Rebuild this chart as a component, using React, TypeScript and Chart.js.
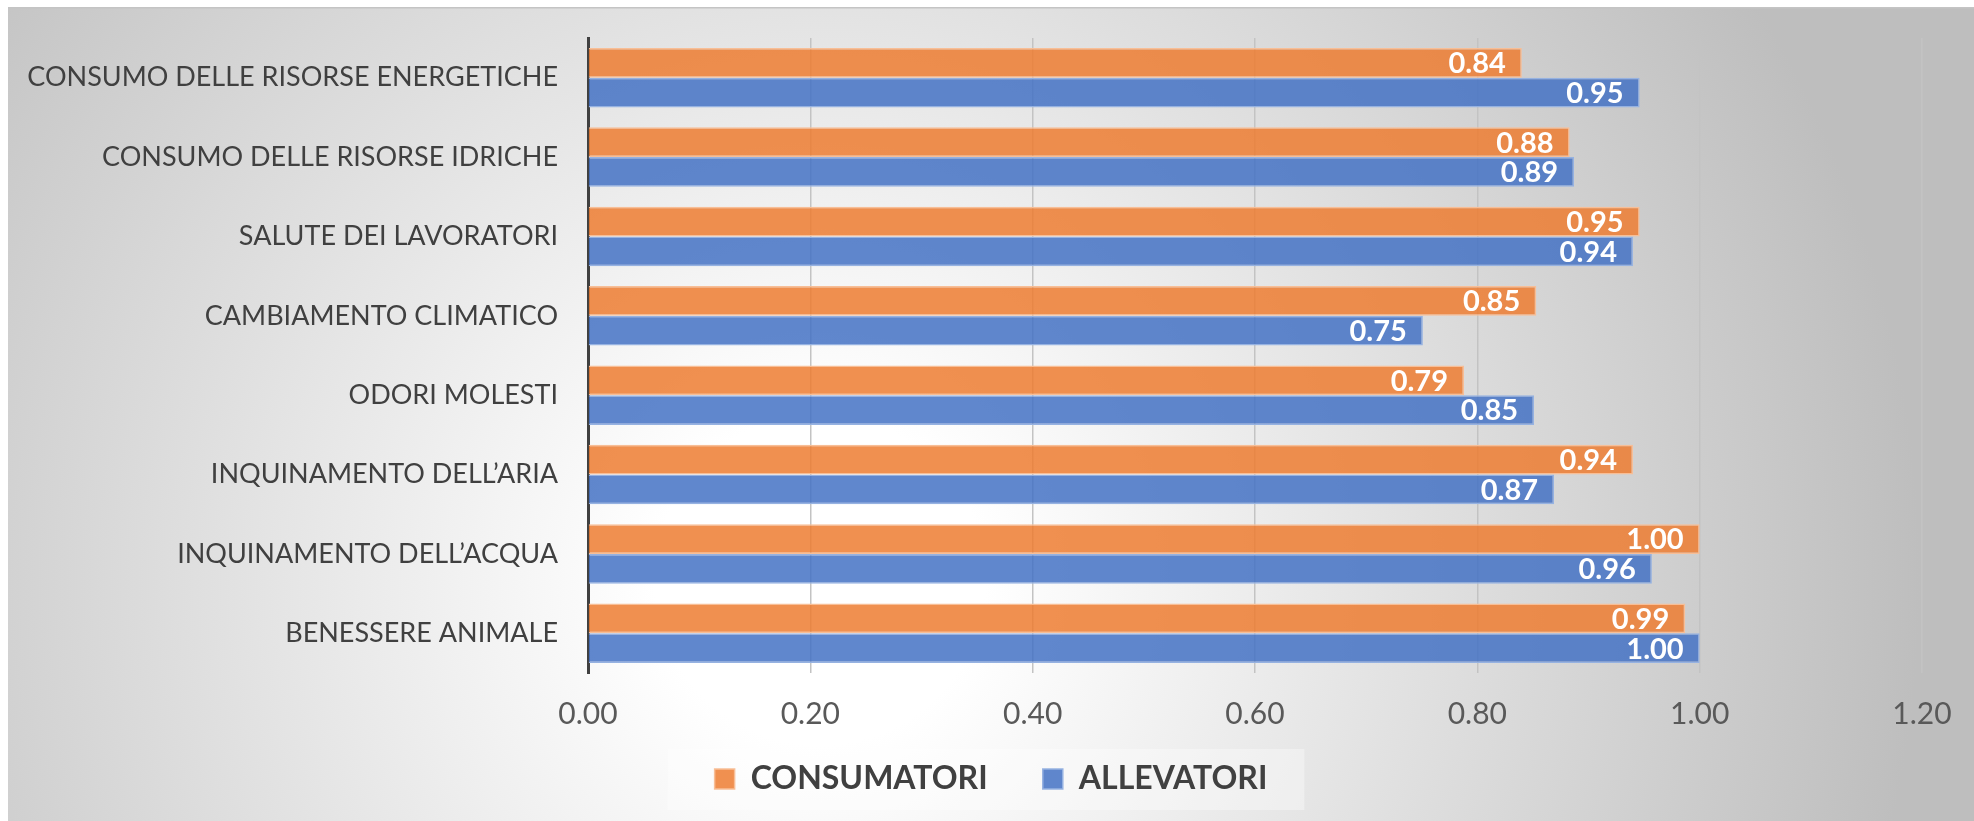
import React, { useEffect, useRef } from "react";
import { Chart, registerables } from "chart.js";

Chart.register(...registerables);

const categories = [
  "CONSUMO DELLE RISORSE ENERGETICHE",
  "CONSUMO DELLE RISORSE IDRICHE",
  "SALUTE DEI LAVORATORI",
  "CAMBIAMENTO CLIMATICO",
  "ODORI MOLESTI",
  "INQUINAMENTO DELL’ARIA",
  "INQUINAMENTO DELL’ACQUA",
  "BENESSERE ANIMALE",
];

const consumatori = [0.84, 0.883, 0.946, 0.853, 0.788, 0.94, 1.0, 0.987];
const allevatori = [0.946, 0.887, 0.94, 0.751, 0.851, 0.869, 0.957, 1.0];

const seriesNames = ["CONSUMATORI", "ALLEVATORI"];
const xTicks = [0, 0.2, 0.4, 0.6, 0.8, 1.0, 1.2];

const FONT = "Lato, 'Open Sans', sans-serif";
const W = 1966;
const H = 814;

const backgroundPlugin = {
  id: "bgPlugin",
  beforeDraw(chart: any) {
    const { ctx, width, height } = chart;
    ctx.save();
    const cx = 812;
    const cy = 573;
    const g = ctx.createRadialGradient(cx, cy, 0, cx, cy, 1100);
    g.addColorStop(0, "#ffffff");
    g.addColorStop(0.15, "#ffffff");
    g.addColorStop(1, "#bebebe");
    ctx.fillStyle = g;
    ctx.fillRect(0, 0, width, height);
    ctx.fillStyle = "#c4c4c4";
    ctx.fillRect(0, 0, width, 1.5);
    // legend background
    const lg = chart.legend;
    if (lg && lg.legendHitBoxes && lg.legendHitBoxes.length) {
      const hb = lg.legendHitBoxes;
      let minX = Infinity, maxX = -Infinity, minY = Infinity, maxY = -Infinity;
      hb.forEach((b: any) => {
        minX = Math.min(minX, b.left);
        maxX = Math.max(maxX, b.left + b.width);
        minY = Math.min(minY, b.top);
        maxY = Math.max(maxY, b.top + b.height);
      });
      const cyL = (minY + maxY) / 2;
      ctx.fillStyle = "rgba(255,255,255,0.35)";
      ctx.fillRect(minX - 47, cyL - 30, maxX - minX + 84, 61);
    }
    ctx.restore();
  },
};

const dataLabelPlugin = {
  id: "dataLabels",
  afterDatasetsDraw(chart: any) {
    const { ctx } = chart;
    ctx.save();
    ctx.font = `bold 29px ${FONT}`;
    ctx.fillStyle = "#ffffff";
    ctx.textAlign = "right";
    ctx.textBaseline = "middle";
    chart.data.datasets.forEach((ds: any, di: number) => {
      const meta = chart.getDatasetMeta(di);
      meta.data.forEach((bar: any, i: number) => {
        const v = ds.data[i] as number;
        ctx.fillText(v.toFixed(2), bar.x - 16, bar.y + 1);
      });
    });
    ctx.restore();
  },
};

export default function App() {
  const ref = useRef<HTMLCanvasElement | null>(null);

  useEffect(() => {
    if (!ref.current) return;
    const chart = new Chart(ref.current, {
      type: "bar",
      data: {
        labels: categories,
        datasets: [
          {
            label: seriesNames[0],
            data: consumatori,
            backgroundColor: "rgba(237,125,49,0.85)",
            borderColor: "rgba(248,190,150,1)",
            borderWidth: 1.5,
            categoryPercentage: 0.75,
            barPercentage: 1.0,
          },
          {
            label: seriesNames[1],
            data: allevatori,
            backgroundColor: "rgba(68,114,196,0.85)",
            borderColor: "rgba(150,178,225,1)",
            borderWidth: 1.5,
            categoryPercentage: 0.75,
            barPercentage: 1.0,
          },
        ],
      },
      options: {
        indexAxis: "y",
        responsive: false,
        animation: false,
        devicePixelRatio: 1,
        layout: { padding: { top: 31, right: 0, bottom: 16, left: 0 } },
        scales: {
          x: {
            min: 0,
            max: 1.2,
            afterBuildTicks: (scale: any) => {
              scale.ticks = xTicks.map((v) => ({ value: v }));
            },
            afterFit: (scale: any) => {
              scale.height = 66;
              scale.paddingRight = 52;
            },
            ticks: {
              callback: (v: any) => Number(v).toFixed(2),
              font: { family: FONT, size: 30 },
              color: "#595959",
              padding: 23,
              maxRotation: 0,
            },
            grid: {
              color: "#c3c3c3",
              lineWidth: 1.5,
              drawTicks: false,
            },
            border: { display: false },
          },
          y: {
            afterFit: (scale: any) => {
              scale.width = 580;
            },
            ticks: {
              font: { family: FONT, size: 27 },
              color: "#404040",
              padding: 0,
            },
            grid: {
              display: true,
              drawOnChartArea: false,
              drawTicks: true,
              tickLength: 30,
              tickColor: "rgba(0,0,0,0)",
            },
            border: { display: true, color: "#404040", width: 3 },
          },
        },
        plugins: {
          legend: {
            position: "bottom",
            labels: {
              boxWidth: 20,
              boxHeight: 20,
              padding: 24,
              color: "#404040",
              font: { family: FONT, size: 32, weight: "bold" },
              generateLabels: (c: any) => {
                const items = (Chart as any).defaults.plugins.legend.labels.generateLabels(c);
                items.forEach((it: any, i: number) => {
                  if (i < items.length - 1) it.text = it.text + "    ";
                });
                return items;
              },
            },
          },
          tooltip: { enabled: false },
        },
      },
      plugins: [backgroundPlugin, dataLabelPlugin],
    });
    return () => chart.destroy();
  }, []);

  return (
    <div style={{ position: "absolute", left: 8, top: 7, width: W, height: H }}>
      <canvas ref={ref} width={W} height={H} style={{ display: "block", width: W, height: H }} />
    </div>
  );
}
